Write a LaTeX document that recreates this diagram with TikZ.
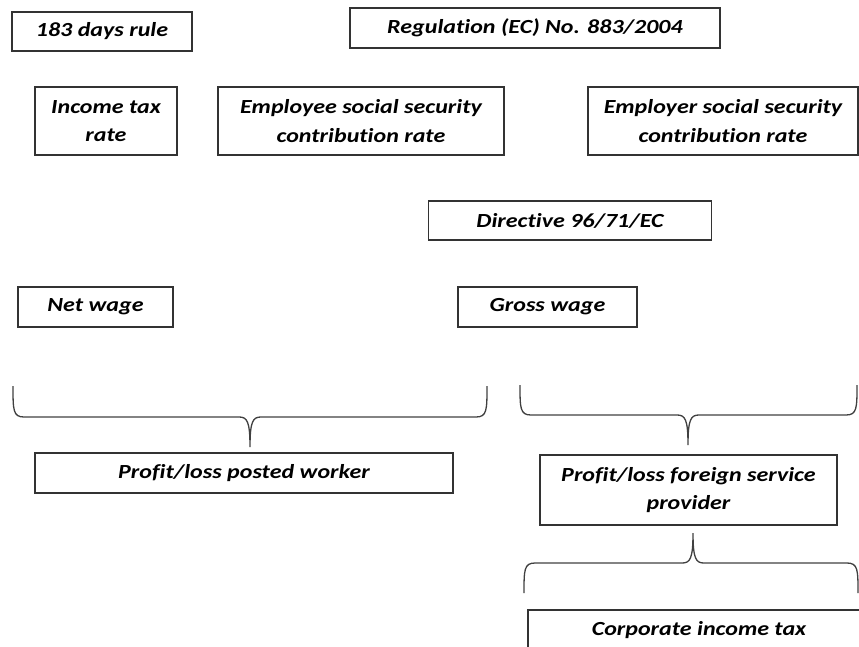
\documentclass[tikz,border=0pt]{standalone}
\usepackage{fontspec}
\setmainfont[Ligatures=NoCommon]{Carlito}
\newfontfamily\boxfont[Ligatures=NoCommon,FakeStretch=1.2]{Carlito}
\begin{document}
\begin{tikzpicture}[x=1pt,y=-1pt,
  box/.style={draw=black!80, line width=1.3pt, inner sep=0pt, align=center,
    font=\boxfont\fontsize{20}{28.5}\selectfont\bfseries\itshape},
  brace/.style={draw=black!75, line width=1.3pt}]
\useasboundingbox (0,0) rectangle (859,646);
\clip (0,0) rectangle (859,646);

\node[box, minimum width=180pt, minimum height=39pt] (days) at (102,31.5) {183 days rule};
\node[box, minimum width=370pt, minimum height=40pt] (reg) at (535,28) {Regulation (EC) No. 883/2004};
\node[box, minimum width=142pt, minimum height=68pt] (inc) at (106,121) {Income tax\\rate};
\node[box, minimum width=286pt, minimum height=68pt] (emp) at (361,121) {Employee social security\\contribution rate};
\node[box, minimum width=270pt, minimum height=68pt] (empr) at (723,121) {Employer social security\\contribution rate};
\node[box, minimum width=283pt, minimum height=39pt] (dir) at (570,220.5) {Directive 96/71/EC};
\node[box, minimum width=155pt, minimum height=40pt] (net) at (95.5,307) {Net wage};
\node[box, minimum width=179pt, minimum height=40pt] (gross) at (547.5,307) {Gross wage};
\node[box, minimum width=418pt, minimum height=40pt] (ppw) at (244,473) {Profit/loss posted worker};
\node[box, minimum width=297pt, minimum height=70pt] (pfsp) at (688.5,490) {Profit/loss foreign service\\provider};
\node[box, minimum width=342pt, minimum height=40pt] (cit) at (699,630) {Corporate income tax};

% left brace
\coordinate (lbA) at (13,386);
\coordinate (lbT) at (250,447);
\coordinate (lbB) at (487,386);
\draw[brace] (lbA) .. controls (13,410) and (13,417) .. (24,417) -- (239,417)
  .. controls (247,417) and (250,421) .. (lbT)
  .. controls (250,421) and (253,417) .. (261,417) -- (476,417)
  .. controls (487,417) and (487,410) .. (lbB);

% right brace
\coordinate (rbA) at (520,385);
\coordinate (rbT) at (688,445);
\coordinate (rbB) at (857,385);
\draw[brace] (rbA) .. controls (520,408) and (520,415) .. (531,415) -- (677,415)
  .. controls (685,415) and (688,419) .. (rbT)
  .. controls (688,419) and (691,415) .. (699,415) -- (846,415)
  .. controls (857,415) and (857,408) .. (rbB);

% lower inverted brace
\coordinate (ibA) at (524,593);
\coordinate (ibT) at (693,533);
\coordinate (ibB) at (858,593);
\draw[brace] (ibA) .. controls (524,570) and (524,563) .. (535,563) -- (682,563)
  .. controls (690,563) and (693,559) .. (ibT)
  .. controls (693,559) and (696,563) .. (704,563) -- (847,563)
  .. controls (858,563) and (858,570) .. (ibB);
\end{tikzpicture}
\end{document}
